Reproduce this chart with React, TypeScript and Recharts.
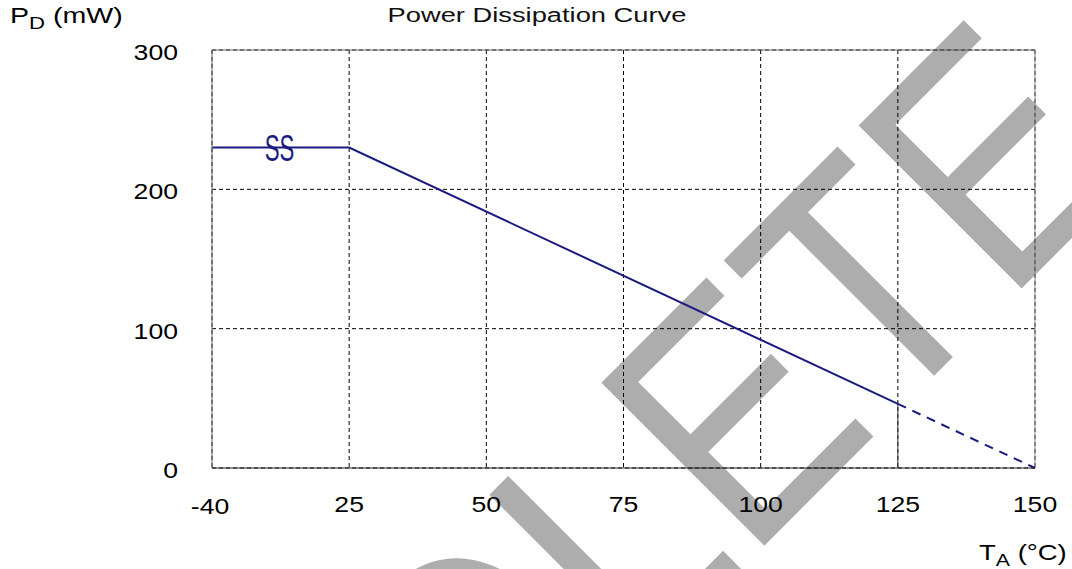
import {
  LineChart,
  Line,
  XAxis,
  YAxis,
  CartesianGrid,
  ReferenceLine,
  ReferenceDot
} from 'recharts';

// values
const solidTemps = [-40, 25, 125];
const solidPower = [230, 230, 46];
const dashedTemps = [125, 150];
const dashedPower = [46, 0];
const xTickLabels = ['-40', '25', '50', '75', '100', '125', '150'];
const xTickPos = [0, 1, 2, 3, 4, 5, 6];
const yTicks = [0, 100, 200, 300];
const breakTemp = -8;
const derateEnd = 125;

const FONT = '"Liberation Sans", Arial, sans-serif';
const NAVY = '#1a1a82';

// broken axis: -40..25 is squeezed into one tick step, then 25 degC per step
const toAxis = (t: number) => (t <= 25 ? (t + 40) / 65 : 1 + (t - 25) / 25);

const solidData = solidTemps.map((t, i) => ({ x: toAxis(t), p: solidPower[i] }));
const dashedData = dashedTemps.map((t, i) => ({ x: toAxis(t), p: dashedPower[i] }));

const XTick = (props: any) => {
  const { x, y, payload, index } = props;
  return (
    <g transform={`translate(${x - (index === 0 ? 2 : 0)},${y})`}>
      <text
        textAnchor="middle"
        y={index === 0 ? 46 : 44}
        transform="scale(1.21,1)"
        fontSize={22}
        fontFamily={FONT}
        fill="#000"
      >
        {xTickLabels[payload.value]}
      </text>
    </g>
  );
};

const YTick = (props: any) => {
  const { x, y, payload } = props;
  return (
    <g transform={`translate(${x - 34},${y})`}>
      <text textAnchor="end" y={10} transform="scale(1.21,1)" fontSize={22} fontFamily={FONT} fill="#000">
        {payload.value}
      </text>
    </g>
  );
};

const BreakMark = (props: any) => {
  const { cx, cy } = props;
  return (
    <g transform={`translate(${cx},${cy})`}>
      <text
        textAnchor="middle"
        y={13}
        transform="scale(0.6,1)"
        fontSize={37}
        fontFamily={FONT}
        fill={NAVY}
      >
        SS
      </text>
    </g>
  );
};

const App = () => {
  return (
    <div style={{ position: 'absolute', left: 0, top: 0, width: 1072, height: 569, background: '#fff' }}>
      <svg width={1072} height={569} style={{ position: 'absolute', left: 0, top: 0 }}>
        <text
          transform="translate(54,1256) rotate(-45) scale(0.85,1)"
          fontSize={335}
          fontFamily={FONT}
          fill="#adadad"
        >
          OBSOLETE
        </text>
        <text
          transform="translate(537,22) scale(1.4,1)"
          textAnchor="middle"
          fontSize={19.5}
          fontFamily={FONT}
          fill="#111"
        >
          Power Dissipation Curve
        </text>
        <text transform="translate(10,23) scale(1.3,1)" fontSize={22} fontFamily={FONT} fill="#000">
          <tspan>P</tspan>
          <tspan fontSize={17} dy={6}>D</tspan>
          <tspan dy={-6}> (mW)</tspan>
        </text>
        <text transform="translate(979,560) scale(1.25,1)" fontSize={22} fontFamily={FONT} fill="#000">
          <tspan>T</tspan>
          <tspan fontSize={17} dy={6}>A</tspan>
          <tspan dy={-6}> (°C)</tspan>
        </text>
      </svg>
      <div style={{ position: 'absolute', left: 0, top: 0 }}>
        <LineChart width={1072} height={569} margin={{ top: 50, right: 37, bottom: 61, left: 0 }}>
          <CartesianGrid stroke="#000" strokeDasharray="4 3" />
          <XAxis
            type="number"
            dataKey="x"
            domain={[0, 6]}
            ticks={xTickPos}
            interval={0}
            height={40}
            tickSize={0}
            tickMargin={0}
            tickLine={false}
            axisLine={{ stroke: '#222' }}
            tick={XTick}
          />
          <YAxis
            type="number"
            domain={[0, 300]}
            ticks={yTicks}
            interval={0}
            width={212}
            tickSize={0}
            tickMargin={0}
            tickLine={false}
            axisLine={{ stroke: '#666' }}
            tick={YTick}
          />
          <ReferenceLine y={300} stroke="#666" />
          <ReferenceLine x={6} stroke="#888" />
          <ReferenceLine
            segment={[
              { x: toAxis(derateEnd), y: 0 },
              { x: toAxis(derateEnd), y: 46 }
            ]}
            stroke="#333"
          />
          <Line
            data={solidData}
            dataKey="p"
            type="linear"
            stroke={NAVY}
            strokeWidth={2}
            dot={false}
            isAnimationActive={false}
          />
          <Line
            data={dashedData}
            dataKey="p"
            type="linear"
            stroke={NAVY}
            strokeWidth={2}
            strokeDasharray="9 7"
            dot={false}
            isAnimationActive={false}
          />
          <ReferenceDot x={toAxis(breakTemp)} y={230} shape={BreakMark} />
        </LineChart>
      </div>
    </div>
  );
};

export default App;
